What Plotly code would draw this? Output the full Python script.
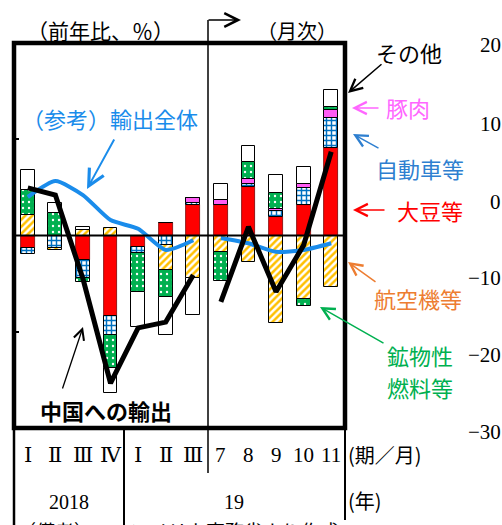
import plotly.graph_objects as go

# ---------------- data ----------------
categories = ["2018Q1", "2018Q2", "2018Q3", "2018Q4", "2019Q1", "2019Q2", "2019Q3",
              "2019-07", "2019-08", "2019-09", "2019-10", "2019-11"]
tick_labels = ["Ⅰ", "Ⅱ", "Ⅲ", "Ⅳ", "Ⅰ", "Ⅱ", "Ⅲ", "7", "8", "9", "10", "11"]

soy      = [-2.6, 0.0, -5.1, -16.7, -2.4, 2.6, 6.3, 6.3, 10.0, 3.8, 6.3, 18.2]   # 大豆等
auto     = [-1.2, -2.5, -3.7, -4.0, -1.3, -2.0, 0.4, 0.0, 0.8, 1.2, 3.5, 6.2]   # 自動車等
pork     = [0.0, 0.0, 0.0, 0.0, 0.0, 0.0, 1.0, 1.0, 0.9, 0.6, 1.0, 1.7]        # 豚肉
aircraft = [4.3, -0.6, 1.1, 1.5, 0.0, -5.2, -8.8, -3.5, -5.6, -18.2, -13.1, -10.7]  # 航空機等
fuel     = [5.2, 4.7, -0.9, -6.9, -8.1, -5.6, 0.0, -6.0, 3.5, 3.3, -1.6, 0.6]  # 鉱物性燃料等
other    = [4.2, 2.1, 0.6, -5.2, -7.3, -7.9, -7.7, 3.5, 3.5, 3.7, 3.5, 3.5]    # その他

china_total = [9.9, 8.4, -9.0, -30.7, -19.2, -18.0, -8.2, -13.8, 1.8, -11.7, -2.0, 17.4]  # 中国への輸出
all_exports = [8.0, 11.3, 8.4, 3.2, 1.4, -3.0, -1.0, -0.5, -1.6, -3.4, -3.0, -1.6]        # 輸出全体

years = ["2018", "19"]
right_axis_labels = ["20", "10", "0", "−10", "−20", "−30"]

# ---------------- geometry helpers (pixel -> paper) ----------------
W, H = 502, 525
L, R, T, B = 14, 345, 43, 428


def px(x):
    return (x - L) / (R - L)


def py(y):
    return (B - y) / (B - T)


xs = list(range(len(categories)))
nq = 7  # quarterly points

fig = go.Figure()

bar_w = 0.5
outline = dict(color="black", width=1)

fig.add_trace(go.Bar(x=xs, y=soy, width=bar_w, name="大豆等",
                     marker=dict(color="#FF0000", line=dict(color="#7a0000", width=0.8))))
fig.add_trace(go.Bar(x=xs, y=auto, width=bar_w, name="自動車等",
                     marker=dict(color="white", line=outline,
                                 pattern=dict(shape="+", fgcolor="#0070C0", bgcolor="white",
                                              size=5, solidity=0.5, fillmode="replace"))))
fig.add_trace(go.Bar(x=xs, y=pork, width=bar_w, name="豚肉",
                     marker=dict(color="#FF5CF4", line=outline)))
fig.add_trace(go.Bar(x=xs, y=aircraft, width=bar_w, name="航空機等",
                     marker=dict(color="white", line=outline,
                                 pattern=dict(shape="/", fgcolor="#FFC000", bgcolor="white",
                                              size=5, solidity=0.5, fillmode="replace"))))
fig.add_trace(go.Bar(x=xs, y=fuel, width=bar_w, name="鉱物性燃料等",
                     marker=dict(color="#00B050", line=outline,
                                 pattern=dict(shape=".", fgcolor="white", bgcolor="#00B050",
                                              size=6, solidity=0.12, fillmode="replace"))))
fig.add_trace(go.Bar(x=xs, y=other, width=bar_w, name="その他",
                     marker=dict(color="white", line=outline)))

blue = "#1A8CEB"
fig.add_trace(go.Scatter(x=xs[:nq], y=all_exports[:nq], mode="lines",
                         line=dict(color=blue, width=4, shape="spline", smoothing=0.6)))
fig.add_trace(go.Scatter(x=xs[nq:], y=all_exports[nq:], mode="lines",
                         line=dict(color=blue, width=4, shape="spline", smoothing=0.6)))
fig.add_trace(go.Scatter(x=xs[:nq], y=china_total[:nq], mode="lines",
                         line=dict(color="black", width=5)))
fig.add_trace(go.Scatter(x=xs[nq:], y=china_total[nq:], mode="lines",
                         line=dict(color="black", width=5)))

shapes = []
# zero line
shapes.append(dict(type="line", xref="paper", yref="y", x0=0, x1=1, y0=0, y1=0,
                   line=dict(color="black", width=2)))
# quarterly / monthly separator with top arrow stem
shapes.append(dict(type="line", xref="paper", yref="paper", x0=px(208), x1=px(208),
                   y0=py(473), y1=py(20), line=dict(color="black", width=1.5)))
# lines under the box
for xx, y_end, wdt in [(14, 525, 2.5), (124, 525, 2), (345, 520, 2)]:
    shapes.append(dict(type="line", xref="paper", yref="paper", x0=px(xx), x1=px(xx),
                       y0=py(428), y1=py(y_end), line=dict(color="black", width=wdt)))
# thick frame
shapes.append(dict(type="rect", xref="paper", yref="paper", x0=0, x1=1, y0=0, y1=1,
                   line=dict(color="black", width=4.5)))

ann = []
JP = "Noto Sans CJK JP"
SERIF = "Liberation Serif, DejaVu Serif, Noto Sans CJK JP"


def text(x, y, s, size=20, color="black", family=JP, xanchor="center", yanchor="middle"):
    ann.append(dict(xref="paper", yref="paper", x=px(x), y=py(y), text=s, showarrow=False,
                    xanchor=xanchor, yanchor=yanchor,
                    font=dict(size=size, color=color, family=family)))


def arrow(x_head, y_head, x_tail, y_tail, color="black", width=1.5, head=5, size=1.6):
    ann.append(dict(xref="paper", yref="paper", x=px(x_head), y=py(y_head),
                    ax=x_tail - x_head, ay=y_tail - y_head, axref="pixel", ayref="pixel",
                    text="", showarrow=True, arrowhead=head, arrowsize=size,
                    arrowwidth=width, arrowcolor=color, standoff=0, startstandoff=0))


text(100, 30, "（前年比、％）", size=21)
text(297, 30, "（月次）", size=20)
arrow(241, 20, 207, 20, width=1.5, head=5, size=1.8)

text(110, 118, "（参考）輸出全体", size=22, color=blue)
arrow(87, 189, 115, 138, color=blue, width=2)

text(106, 410, "<b>中国への輸出</b>", size=22)
arrow(83, 327, 62, 390, color="black", width=1.3)

text(409, 52, "その他", size=22)
arrow(348, 93, 383, 63, color="black", width=1.5)
text(408, 107, "豚肉", size=22, color="#FF66FF")
arrow(352, 108, 380, 108, color="#FF66FF", width=1.5)
text(420, 168, "自動車等", size=22, color="#2E7FD0")
arrow(353, 134, 380, 149, color="#2E7FD0", width=1.5)
text(430, 210, "大豆等", size=22, color="#FF0000")
arrow(353, 210, 386, 210, color="#FF0000", width=1.5)
text(418, 298, "航空機等", size=22, color="#ED7D31")
arrow(348, 262, 377, 283, color="#ED7D31", width=1.5)
text(420, 355, "鉱物性", size=22, color="#00B050")
text(420, 387, "燃料等", size=22, color="#00B050")
arrow(320, 307, 385, 344, color="#00B050", width=1.5)

# right-hand stray axis labels
for lab, yy in zip(right_axis_labels, [45, 124, 202, 278, 355, 432]):
    text(503, yy, lab, size=21, family=SERIF, xanchor="right")

# category tick labels
for i, lab in enumerate(tick_labels):
    ann.append(dict(xref="x", yref="paper", x=xs[i], y=py(455), text=lab, showarrow=False,
                    xanchor="center", yanchor="middle",
                    font=dict(size=21, color="black", family=SERIF)))
text(346, 455, "(期／月)", size=20, xanchor="left")
text(69, 502, years[0], size=20, family=SERIF)
text(234, 502, years[1], size=20, family=SERIF)
text(346, 500, "(年)", size=20, xanchor="left")
text(15, 515, "（備考）１．アメリカ商務省より作成", size=19, xanchor="left", yanchor="top")

fig.update_layout(
    width=W, height=H,
    margin=dict(l=L, r=W - R, t=T, b=H - B, pad=0),
    paper_bgcolor="white", plot_bgcolor="white",
    barmode="relative", bargap=0, showlegend=False,
    xaxis=dict(range=[-0.5, 11.5], showticklabels=False, showgrid=False, zeroline=False,
               ticks=""),
    yaxis=dict(range=[-40, 40], tickvals=[-20, 20], showticklabels=False, showgrid=False,
               zeroline=False, ticks="inside", ticklen=5, tickwidth=2, tickcolor="black",
               showline=False),
    shapes=shapes, annotations=ann,
)

fig.write_html("out.html", config={"displayModeBar": False},
               post_script="document.body.style.margin='0';")
